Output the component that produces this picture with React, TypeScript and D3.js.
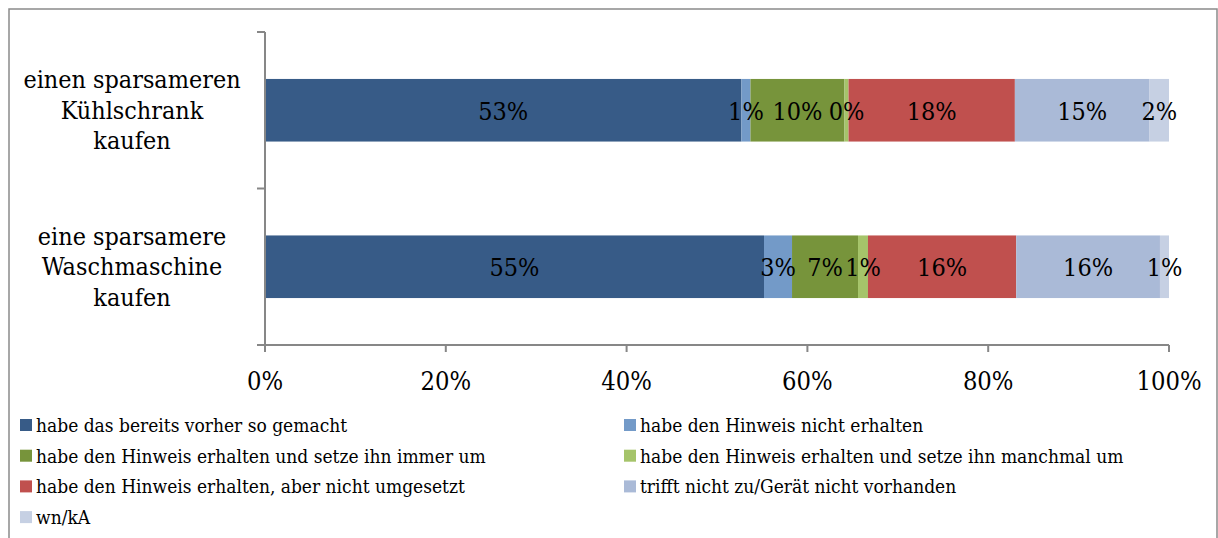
import React from "react";
import * as d3 from "d3";

const categories = [
  ["einen sparsameren", "Kühlschrank", "kaufen"],
  ["eine sparsamere", "Waschmaschine", "kaufen"],
];
const categoryKeys = ["kuehlschrank", "waschmaschine"];

const seriesNames = [
  "habe das bereits vorher so gemacht",
  "habe den Hinweis nicht erhalten",
  "habe den Hinweis erhalten und setze ihn immer um",
  "habe den Hinweis erhalten und setze ihn manchmal um",
  "habe den Hinweis erhalten, aber nicht umgesetzt",
  "trifft nicht zu/Gerät nicht vorhanden",
  "wn/kA",
];
const seriesColors = ["#375B87", "#739AC8", "#77943B", "#A5C46A", "#C0504E", "#AABAD7", "#C6D0E3"];

// values per category, in series order (percent)
const kuehlschrankValues = [52.7, 1.0, 10.4, 0.45, 18.4, 14.9, 2.15];
const waschmaschineValues = [55.2, 3.1, 7.3, 1.1, 16.4, 15.9, 1.0];
const values = [kuehlschrankValues, waschmaschineValues];

const tickValues = [0, 20, 40, 60, 80, 100];

const FONT = "'DejaVu Serif Condensed', 'DejaVu Serif', serif";

export default function App() {
  const W = 1218;
  const H = 538;
  const x = d3.scaleLinear().domain([0, 100]).range([265, 1169]);
  const y = d3
    .scaleBand<string>()
    .domain(categoryKeys)
    .range([32, 345])
    .paddingInner(0.6)
    .paddingOuter(0.3);
  const axisColor = "#878787";
  const step = y.step();
  const boundaries = [32, 32 + step, 345];

  const fmt = (v: number) => `${Math.round(v)}%`;

  return (
    <svg
      width={W}
      height={H}
      style={{ position: "absolute", left: 0, top: 0, background: "#fff", fontStretch: "condensed" }}
      fontFamily={FONT}
    >
      <rect x={0} y={0} width={W} height={H} fill="#fff" />
      {/* outer frame */}
      <rect x={9} y={9} width={1208} height={560} fill="none" stroke="#8a8a8a" strokeWidth={1.5} />

      {/* bars */}
      {categoryKeys.map((key, ci) => {
        const vals = values[ci];
        let cum = 0;
        const y0 = y(key) as number;
        const bw = y.bandwidth();
        return (
          <g key={key}>
            {vals.map((v, si) => {
              const start = cum;
              cum += v;
              return (
                <rect
                  key={si}
                  x={x(start)}
                  y={y0}
                  width={x(start + v) - x(start)}
                  height={bw}
                  fill={seriesColors[si]}
                />
              );
            })}
          </g>
        );
      })}

      {/* data labels */}
      {categoryKeys.map((key, ci) => {
        const vals = values[ci];
        let cum = 0;
        const cy = (y(key) as number) + y.bandwidth() / 2;
        return (
          <g key={key + "-lab"}>
            {vals.map((v, si) => {
              const start = cum;
              cum += v;
              return (
                <text
                  key={si}
                  x={x(start + v / 2)}
                  y={cy + 9.5}
                  textAnchor="middle"
                  fontSize={25}
                  fill="#000"
                >
                  {fmt(v)}
                </text>
              );
            })}
          </g>
        );
      })}

      {/* y axis */}
      <line x1={265} x2={265} y1={32} y2={345} stroke={axisColor} strokeWidth={2} />
      {boundaries.map((b, i) => (
        <line key={i} x1={257} x2={265} y1={b} y2={b} stroke={axisColor} strokeWidth={2} />
      ))}
      {/* x axis */}
      <line x1={257} x2={x(100)} y1={345} y2={345} stroke={axisColor} strokeWidth={2} />
      {tickValues.map((t) => (
        <g key={t}>
          <line x1={x(t)} x2={x(t)} y1={345} y2={352} stroke={axisColor} strokeWidth={2} />
          <text x={x(t)} y={390} textAnchor="middle" fontSize={25.3} fill="#000">
            {t}%
          </text>
        </g>
      ))}

      {/* category labels */}
      {categoryKeys.map((key, ci) => {
        const cy = (y(key) as number) + y.bandwidth() / 2;
        return (
          <text key={key + "-cat"} x={132} textAnchor="middle" fontSize={24.9} fill="#000">
            {categories[ci].map((line, li) => (
              <tspan key={li} x={132} y={cy + 8.5 + (li - 1) * 30.5}>
                {line}
              </tspan>
            ))}
          </text>
        );
      })}

      {/* legend */}
      {seriesNames.map((name, i) => {
        const col = i % 2;
        const row = Math.floor(i / 2);
        const sx = col === 0 ? 20 : 624;
        const cy = 425 + row * 30.7;
        return (
          <g key={name}>
            <rect x={sx} y={cy - 6} width={12} height={12} fill={seriesColors[i]} />
            <text x={sx + 16} y={cy + 7} fontSize={19} fill="#000">
              {name}
            </text>
          </g>
        );
      })}
    </svg>
  );
}
